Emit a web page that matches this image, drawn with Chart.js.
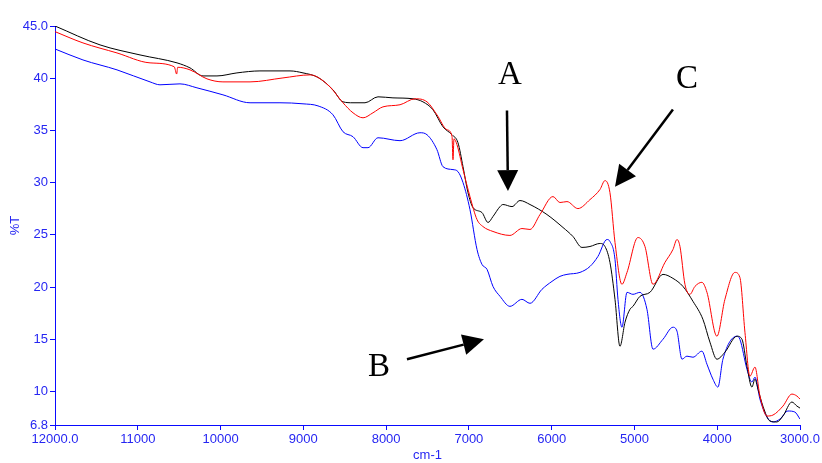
<!DOCTYPE html>
<html>
<head>
<meta charset="utf-8">
<script src="https://cdn.jsdelivr.net/npm/chart.js@4/dist/chart.umd.min.js"></script>
<style>
  html, body { margin: 0; padding: 0; background: #ffffff; }
  canvas { display: block; }
</style>
</head>
<body>
<canvas id="spectrum" width="822" height="463"></canvas>
<script>
// Transmittance spectra (%T vs wavenumber, cm-1) for three samples

const blackWn = [12000,11456,10973,10526,10369,10212,10043,9802,9524,9161,
  9004,8823,8642,8521,8400,8255,8098,7917,7675,7555,
  7434,7313,7204,7132,7071,7011,6951,6842,6769,6709,
  6624,6588,6479,6383,6262,6057,5863,5743,5634,5537,
  5417,5356,5296,5235,5175,5114,5054,5018,4933,4813,
  4655,4535,4414,4293,4173,4088,4004,3907,3762,3701,
  3641,3581,3544,3508,3448,3363,3279,3206,3098,3037,3000];
const blackT = [45.0,43.19,42.23,41.47,40.99,40.22,40.22,40.51,40.70,40.70,
  40.51,40.08,38.89,37.74,37.65,37.65,38.22,38.12,38.03,37.74,
  36.98,35.35,34.59,33.83,31.53,29.05,27.62,27.14,26.19,26.76,
  27.71,27.91,27.71,28.29,27.91,26.95,25.71,24.85,23.80,23.89,
  24.18,23.89,22.37,18.83,14.34,16.64,17.88,18.16,19.12,19.50,
  21.22,20.84,20.07,18.64,16.92,14.73,13.10,13.77,15.30,15.01,
  12.43,10.43,11.19,10.24,8.61,7.18,7.09,7.66,9.00,8.61,8.42];

const redWn = [12000,11662,11251,10852,10560,10530,10518,10369,10164,9971,
  9644,9246,8920,8835,8678,8521,8400,8279,8159,8038,
  7832,7651,7506,7386,7265,7204,7192,7180,7144,7071,
  6987,6902,6830,6709,6504,6359,6262,6141,5984,5900,
  5815,5683,5537,5417,5356,5296,5235,5151,5090,4958,
  4873,4776,4631,4535,4486,4450,4390,4330,4269,4185,
  4124,4004,3907,3786,3726,3665,3605,3544,3484,3399,
  3327,3206,3098,3037,3000];
const redT = [44.46,43.38,42.42,41.47,41.10,40.40,41.05,40.80,39.94,39.65,
  39.65,40.03,40.32,40.13,39.17,37.65,36.69,36.21,36.69,37.26,
  37.46,38.03,37.74,36.50,35.07,34.45,32.20,34.20,33.64,31.25,
  28.67,26.47,25.80,25.33,24.95,25.61,25.52,26.95,28.67,28.10,
  28.19,27.52,28.38,29.34,30.20,29.05,24.28,20.27,21.41,24.75,
  23.89,20.27,22.37,23.60,24.56,23.89,20.27,19.31,20.07,20.46,
  19.50,15.30,18.83,21.41,20.93,15.68,11.48,12.34,9.57,7.66,
  7.75,8.61,9.76,9.57,9.28];

const blueWn = [12000,11662,11251,10852,10732,10490,10285,9971,9644,9282,
  9004,8823,8642,8521,8400,8279,8219,8098,7832,7591,
  7506,7386,7313,7192,7132,7071,6987,6902,6842,6781,
  6709,6624,6504,6359,6262,6117,5996,5900,5815,5658,
  5537,5441,5332,5296,5235,5199,5151,5090,5018,4933,
  4849,4776,4655,4535,4486,4426,4366,4293,4185,4124,
  4052,3992,3931,3762,3726,3641,3581,3544,3484,3399,
  3327,3242,3146,3062,3000];
const blueT = [42.80,41.75,40.80,39.65,39.37,39.46,39.08,38.41,37.65,37.65,
  37.55,37.35,36.50,34.88,34.40,33.35,33.35,34.30,34.02,34.78,
  34.59,33.16,31.53,31.25,31.06,30.01,27.43,23.61,22.18,21.70,
  20.07,19.12,18.16,18.83,18.45,19.79,20.55,21.03,21.22,21.41,
  21.98,22.94,24.56,24.37,22.65,18.83,16.16,19.50,19.31,19.50,
  17.88,14.06,15.01,16.16,15.78,13.10,13.39,13.29,13.87,12.62,
  11.19,10.43,13.10,15.30,15.01,12.15,10.91,11.38,9.28,7.56,
  7.09,7.37,8.14,8.04,7.37];

const xTickValues = [12000, 11000, 10000, 9000, 8000, 7000, 6000, 5000, 4000, 3000];
const yTickValues = [45, 40, 35, 30, 25, 20, 15, 10, 6.8];

// Callout letters with arrows, placed in axis units (wavenumber, %T)
const callouts = [
  { text: 'A', label: [6504, 40.3], from: [6540, 36.9], to: [6528, 29.2] },
  { text: 'B', label: [8086, 12.3], from: [7748, 13.1], to: [6818, 15.0] },
  { text: 'C', label: [4365, 39.9], from: [4535, 37.0], to: [5235, 29.6] }
];

const AXIS_BLUE = '#0a0aff';
const TEXT_BLUE = '#2626f2';

const toPoints = (wn, t) => wn.map((w, i) => ({ x: w, y: t[i] }));

const calloutPlugin = {
  id: 'callouts',
  afterDatasetsDraw(chart) {
    const { ctx, scales: { x, y } } = chart;
    ctx.save();
    ctx.fillStyle = '#000';
    ctx.strokeStyle = '#000';
    ctx.font = '33px "Liberation Serif", "Times New Roman", serif';
    ctx.textAlign = 'center';
    ctx.textBaseline = 'middle';
    callouts.forEach(c => {
      ctx.fillText(c.text, x.getPixelForValue(c.label[0]), y.getPixelForValue(c.label[1]));
      const x0 = x.getPixelForValue(c.from[0]), y0 = y.getPixelForValue(c.from[1]);
      const x1 = x.getPixelForValue(c.to[0]), y1 = y.getPixelForValue(c.to[1]);
      const ang = Math.atan2(y1 - y0, x1 - x0);
      const headLen = 21, headHalf = 10.5;
      const bx = x1 - headLen * Math.cos(ang), by = y1 - headLen * Math.sin(ang);
      ctx.lineWidth = 2.5;
      ctx.beginPath();
      ctx.moveTo(x0, y0);
      ctx.lineTo(bx, by);
      ctx.stroke();
      ctx.beginPath();
      ctx.moveTo(x1, y1);
      ctx.lineTo(bx + headHalf * Math.sin(ang), by - headHalf * Math.cos(ang));
      ctx.lineTo(bx - headHalf * Math.sin(ang), by + headHalf * Math.cos(ang));
      ctx.closePath();
      ctx.fill();
    });
    ctx.restore();
  }
};

const lineStyle = { borderWidth: 1, pointRadius: 0, fill: false, cubicInterpolationMode: 'monotone' };

new Chart(document.getElementById('spectrum'), {
  type: 'line',
  data: {
    datasets: [
      { label: 'C', data: toPoints(redWn, redT), borderColor: '#ff0000', ...lineStyle },
      { label: 'A', data: toPoints(blackWn, blackT), borderColor: '#000000', ...lineStyle },
      { label: 'B', data: toPoints(blueWn, blueT), borderColor: '#0000ff', ...lineStyle }
    ]
  },
  options: {
    responsive: false,
    animation: false,
    parsing: false,
    layout: { padding: { top: 26, right: 22, bottom: 0, left: 0 } },
    plugins: { legend: { display: false }, tooltip: { enabled: false } },
    scales: {
      x: {
        type: 'linear',
        reverse: true,
        min: 3000,
        max: 12000,
        afterBuildTicks: s => { s.ticks = xTickValues.map(v => ({ value: v })); },
        afterFit: s => { s.height = 38; },
        ticks: {
          autoSkip: false,
          maxRotation: 0,
          padding: 2,
          color: TEXT_BLUE,
          font: { family: '"Liberation Sans", Arial, sans-serif', size: 13 },
          callback: v => (v === 12000 || v === 3000) ? v.toFixed(1) : String(v)
        },
        grid: { display: true, drawOnChartArea: false, drawTicks: true, tickLength: 5, color: AXIS_BLUE },
        border: { display: true, color: AXIS_BLUE, width: 1 },
        title: {
          display: true, text: 'cm-1', color: TEXT_BLUE,
          font: { family: '"Liberation Sans", Arial, sans-serif', size: 13 },
          padding: { top: 0, bottom: 0 }
        }
      },
      y: {
        type: 'linear',
        min: 6.8,
        max: 45,
        afterBuildTicks: s => { s.ticks = yTickValues.map(v => ({ value: v })); },
        afterFit: s => { s.width = 55; },
        ticks: {
          autoSkip: false,
          padding: 2,
          color: TEXT_BLUE,
          font: { family: '"Liberation Sans", Arial, sans-serif', size: 13 },
          callback: v => v === 45 ? '45.0' : String(v)
        },
        grid: { display: true, drawOnChartArea: false, drawTicks: true, tickLength: 5, color: AXIS_BLUE },
        border: { display: true, color: AXIS_BLUE, width: 1 },
        title: {
          display: true, text: '%T', color: TEXT_BLUE,
          font: { family: '"Liberation Sans", Arial, sans-serif', size: 13 },
          padding: { top: 8, bottom: 0 }
        }
      }
    }
  },
  plugins: [calloutPlugin]
});
</script>
</body>
</html>
